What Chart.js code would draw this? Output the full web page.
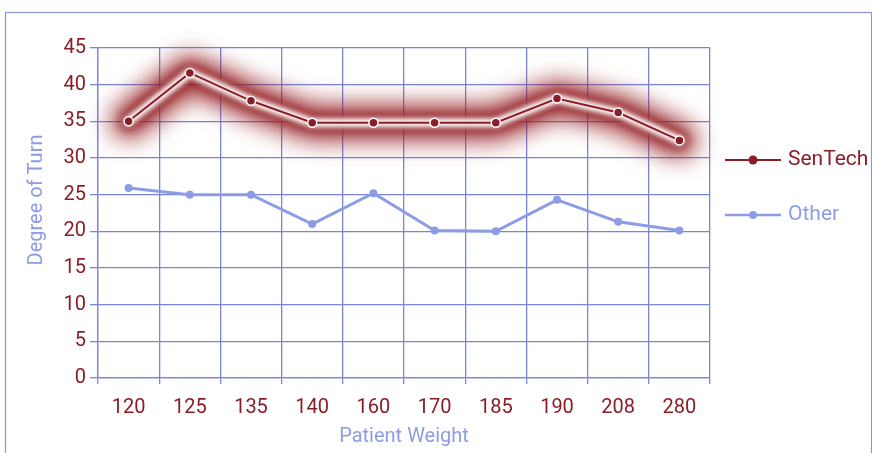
<!DOCTYPE html>
<html><head><meta charset="utf-8">
<script src="https://cdn.jsdelivr.net/npm/chart.js@4.4.1/dist/chart.umd.min.js"></script>
<style>html,body{margin:0;padding:0;background:#fff;}#wrap{width:872px;height:453px;position:relative;}</style>
</head><body><div id="wrap"><canvas id="c"></canvas></div>
<script>
const categories = ['120','125','135','140','160','170','185','190','208','280'];
const senTech = [35, 41.6, 37.8, 34.8, 34.8, 34.8, 34.8, 38.1, 36.2, 32.4];
const other = [25.9, 25.0, 25.0, 21.0, 25.2, 20.1, 20.0, 24.3, 21.3, 20.1];
const seriesNames = ['SenTech', 'Other'];
const yMin = 0, yMax = 45, yStep = 5;
const xTitle = 'Patient Weight';
const yTitle = 'Degree of Turn';

const RED = '#8a1d26', BLUE = '#8d9ce6', GRID = '#7885d8';
const FONT = 'Roboto, "DejaVu Sans Condensed", sans-serif';

const glowPlugin = {
  id: 'glow',
  beforeDatasetDraw(chart, args) {
    if (args.index !== 0) return;
    const pts = chart.getDatasetMeta(0).data;
    const ctx = chart.ctx;
    const path = () => { ctx.beginPath(); pts.forEach((p, i) => i ? ctx.lineTo(p.x, p.y) : ctx.moveTo(p.x, p.y)); };
    ctx.save();
    ctx.lineJoin = 'round'; ctx.lineCap = 'round';
    ctx.filter = 'blur(12px)';
    ctx.strokeStyle = 'rgba(150,30,35,0.95)'; ctx.lineWidth = 34; path(); ctx.stroke();
    ctx.filter = 'blur(5px)';
    ctx.strokeStyle = 'rgba(140,25,30,0.55)'; ctx.lineWidth = 20; path(); ctx.stroke();
    ctx.filter = 'blur(2.5px)';
    ctx.strokeStyle = '#ffffff'; ctx.lineWidth = 9; path(); ctx.stroke();
    ctx.restore();
  }
};
const framePlugin = {
  id: 'frame',
  beforeDraw(chart) {
    const ctx = chart.ctx; ctx.save();
    ctx.strokeStyle = '#8a95dc'; ctx.lineWidth = 1.2;
    ctx.strokeRect(5.5, 12.5, 866, 445);
    ctx.restore();
  },
  afterDraw(chart) {
    const ctx = chart.ctx; ctx.save();
    // y-axis title
    ctx.save();
    ctx.translate(37, 200); ctx.rotate(-Math.PI / 2);
    ctx.font = '20px ' + FONT; ctx.fillStyle = BLUE; ctx.textAlign = 'center'; ctx.textBaseline = 'middle';
    ctx.fillText(yTitle, 0, 0);
    ctx.restore();
    // legend
    const rows = [{y:160, c: RED, lw: 2, r: 4.5}, {y:215, c: BLUE, lw: 2.5, r: 4}];
    chart.data.datasets.forEach((ds, i) => {
      const r = rows[i];
      ctx.strokeStyle = r.c; ctx.lineWidth = r.lw;
      ctx.beginPath(); ctx.moveTo(725, r.y); ctx.lineTo(781, r.y); ctx.stroke();
      ctx.fillStyle = r.c; ctx.beginPath(); ctx.arc(753, r.y, r.r, 0, Math.PI*2); ctx.fill();
      ctx.font = '21px ' + FONT; ctx.textBaseline = 'middle'; ctx.textAlign = 'left';
      ctx.fillText(ds.label, 788, r.y);
    });
    ctx.restore();
  }
};

new Chart(document.getElementById('c'), {
  type: 'line',
  data: {
    labels: categories,
    datasets: [
      { label: seriesNames[0], data: senTech, borderColor: RED, backgroundColor: RED, borderWidth: 2,
        pointRadius: 4.5, pointBackgroundColor: RED, pointBorderColor: '#ffffff', pointBorderWidth: 1.5, tension: 0 },
      { label: seriesNames[1], data: other, borderColor: BLUE, backgroundColor: BLUE, borderWidth: 3,
        pointRadius: 4, pointBackgroundColor: BLUE, pointBorderColor: BLUE, pointBorderWidth: 0, tension: 0 }
    ]
  },
  options: {
    responsive: true, maintainAspectRatio: false, animation: false,
    layout: { padding: { left: 0, right: 162, top: 48, bottom: 0 } },
    plugins: { legend: { display: false }, tooltip: { enabled: false } },
    scales: {
      x: {
        offset: true,
        grid: { offset: true, color: GRID, lineWidth: 1.3, tickLength: 6, drawTicks: true },
        border: { color: GRID, width: 1.3 },
        ticks: { color: RED, font: { family: FONT, size: 20 }, padding: 12, maxRotation: 0, autoSkip: false },
        title: { display: true, text: xTitle, color: BLUE, font: { family: FONT, size: 20 }, padding: { top: 2, bottom: 4 } },
        afterFit(s) { s.height = 75; }
      },
      y: {
        min: yMin, max: yMax,
        grid: { color: GRID, lineWidth: 1.3, tickLength: 8 },
        border: { color: GRID, width: 1.3 },
        ticks: { stepSize: yStep, color: RED, font: { family: FONT, size: 20 }, padding: 4 },
        title: { display: false, text: yTitle },
        afterFit(s) { s.width = 98; }
      }
    }
  },
  plugins: [glowPlugin, framePlugin]
});
</script></body></html>
